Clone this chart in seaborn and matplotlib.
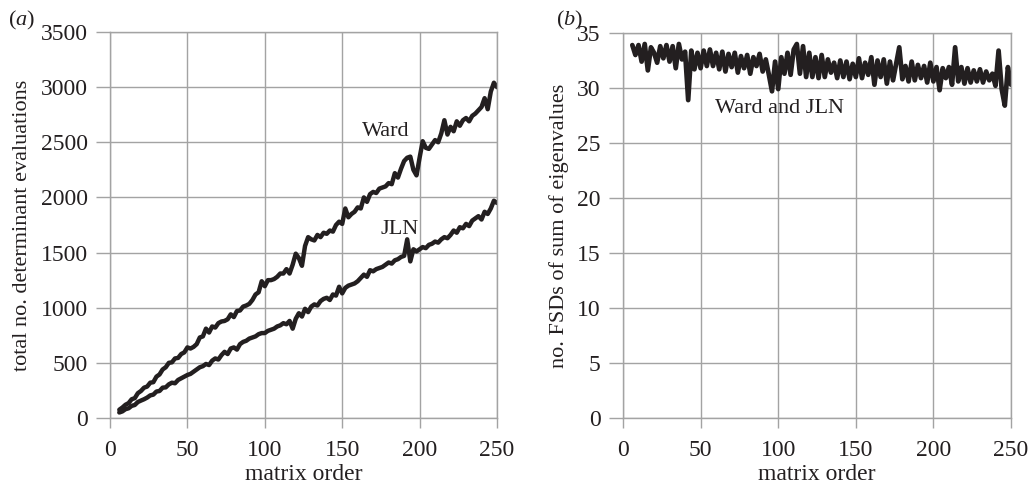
import matplotlib
matplotlib.use("Agg")
import matplotlib.pyplot as plt
import seaborn as sns
import pandas as pd

# ---- data ----
matrix_order = list(range(6, 251, 2))

ward = [75, 95,
        120, 135, 170, 180, 225,
        245, 275, 285, 320, 325,
        375, 395, 440, 460, 500,
        505, 540, 545, 580, 595,
        640, 630, 645, 670, 730,
        740, 810, 775, 830, 820,
        860, 875, 880, 895, 940,
        915, 970, 975, 1010, 1020,
        1035, 1070, 1120, 1140, 1240,
        1195, 1250, 1250, 1260, 1280,
        1310, 1310, 1350, 1310, 1390,
        1490, 1450, 1380, 1560, 1640,
        1620, 1610, 1660, 1640, 1680,
        1670, 1700, 1690, 1750, 1780,
        1760, 1900, 1820, 1850, 1870,
        1910, 1900, 2000, 1960, 2030,
        2050, 2040, 2080, 2090, 2100,
        2130, 2120, 2220, 2180, 2260,
        2330, 2360, 2370, 2250, 2200,
        2360, 2510, 2450, 2440, 2480,
        2520, 2500, 2580, 2700, 2570,
        2640, 2600, 2690, 2650, 2700,
        2720, 2690, 2740, 2760, 2790,
        2820, 2900, 2800, 2960, 3040,
        3000]

jln = [50, 60,
       80, 88, 110, 118, 145,
       158, 170, 185, 205, 212,
       240, 245, 275, 278, 305,
       320, 315, 345, 360, 375,
       390, 400, 420, 440, 460,
       470, 490, 480, 520, 540,
       530, 570, 600, 580, 630,
       640, 620, 670, 690, 700,
       720, 730, 740, 760, 770,
       770, 790, 800, 810, 830,
       840, 860, 850, 880, 810,
       900, 950, 920, 990, 960,
       1010, 1030, 1020, 1060, 1080,
       1090, 1070, 1120, 1110, 1190,
       1130, 1180, 1200, 1210, 1220,
       1240, 1270, 1300, 1280, 1340,
       1330, 1350, 1360, 1370, 1390,
       1410, 1400, 1430, 1440, 1460,
       1470, 1620, 1420, 1530, 1510,
       1530, 1550, 1540, 1570, 1580,
       1600, 1590, 1620, 1640, 1630,
       1660, 1700, 1680, 1730, 1720,
       1760, 1740, 1790, 1810, 1830,
       1800, 1870, 1850, 1900, 1970,
       1950]

fsd = [33.9, 33.0,
       33.9, 32.4, 34.0, 31.6, 33.7,
       33.2, 32.3, 33.8, 32.7, 33.9,
       32.4, 33.8, 31.8, 34.0, 32.6,
       33.3, 28.9, 33.4, 31.7, 33.2,
       31.8, 33.4, 32.0, 33.5, 32.0,
       33.2, 31.7, 33.3, 31.5, 33.1,
       31.9, 33.2, 31.4, 32.9, 31.8,
       33.0, 31.3, 32.8, 32.0, 33.1,
       31.5, 32.6, 31.2, 29.7, 32.4,
       29.9, 32.8, 31.3, 33.2, 31.2,
       33.5, 34.0, 31.3, 33.8, 31.0,
       33.2, 31.0, 32.8, 30.9, 33.0,
       31.0, 32.6, 31.4, 32.3, 30.9,
       32.5, 31.0, 32.4, 30.8, 32.2,
       31.0, 32.7, 30.9, 32.3, 31.2,
       32.8, 30.3, 32.5, 31.0, 32.6,
       30.4, 32.4, 30.7, 32.2, 33.7,
       30.8, 32.0, 30.6, 32.4, 30.7,
       32.1, 30.9, 32.0, 30.5, 32.3,
       30.6, 31.9, 29.8, 31.8, 30.9,
       31.9, 30.3, 33.7, 30.6, 31.9,
       30.4, 31.8, 30.5, 31.6, 30.6,
       31.7, 30.5, 31.5, 30.7, 31.3,
       30.2, 33.4, 29.9, 28.4, 31.9,
       30.3]

x_ticks = [0, 50, 100, 150, 200, 250]
ya_ticks = [0, 500, 1000, 1500, 2000, 2500, 3000, 3500]
yb_ticks = [0, 5, 10, 15, 20, 25, 30, 35]

# ---- style ----
sns.set_theme(style="whitegrid")
plt.rcParams['font.family'] = ['Liberation Serif', 'DejaVu Serif']
plt.rcParams['mathtext.fontset'] = 'custom'
plt.rcParams['mathtext.rm'] = 'Liberation Serif'
plt.rcParams['mathtext.it'] = 'Liberation Serif:italic'

INK = '#231f20'
GRID = '#a3a3a3'
FS = 16

df_a = pd.DataFrame({
    'matrix order': matrix_order * 2,
    'value': ward + jln,
    'method': ['Ward'] * len(ward) + ['JLN'] * len(jln),
})
df_b = pd.DataFrame({'matrix order': matrix_order, 'value': fsd})

fig = plt.figure(figsize=(10.32, 4.84), dpi=100)
ax1 = fig.add_axes([110 / 1032, 1 - 418 / 484, 387 / 1032, 386 / 484])
ax2 = fig.add_axes([623 / 1032, 1 - 418 / 484, 388 / 1032, 385 / 484])

sns.lineplot(data=df_a, x='matrix order', y='value', hue='method',
             palette=[INK, INK], linewidth=3.2, legend=False, ax=ax1)
sns.lineplot(data=df_b, x='matrix order', y='value', color=INK,
             linewidth=3.4, legend=False, ax=ax2)

for ax, yt, ylab in [(ax1, ya_ticks, 'total no. determinant evaluations'),
                     (ax2, yb_ticks, 'no. FSDs of sum of eigenvalues')]:
    ax.set_xlim(0, 250)
    ax.set_ylim(yt[0], yt[-1])
    ax.set_xticks(x_ticks)
    ax.set_yticks(yt)
    ax.grid(True, color=GRID, linewidth=1.0)
    for s in ax.spines.values():
        s.set_color(GRID)
        s.set_linewidth(1.0)
    ax.tick_params(axis='y', left=True, length=10, width=1.0, color=GRID,
                   pad=6, labelsize=FS + 1, labelcolor=INK, direction='out')
    ax.tick_params(axis='x', bottom=True, length=7, width=1.0, color=GRID,
                   pad=9, labelsize=FS + 1, labelcolor=INK, direction='out')
    ax.set_xlabel('matrix order', fontsize=FS + 1, color=INK, labelpad=2)
    ax.set_ylabel(ylab, fontsize=FS, color=INK, labelpad=6)
    ax.set_facecolor('white')

ax1.text(178, 2600, 'Ward', fontsize=FS, color=INK, ha='center', va='center')
ax1.text(187, 1705, 'JLN', fontsize=FS, color=INK, ha='center', va='center')
ax2.text(101, 28.1, 'Ward and JLN', fontsize=FS, color=INK, ha='center', va='center')

fig.text(8 / 1032, 1 - 20 / 484, r'($\mathit{a}$)', fontsize=FS, color=INK, va='center')
fig.text(556 / 1032, 1 - 20 / 484, r'($\mathit{b}$)', fontsize=FS, color=INK, va='center')

fig.savefig('out.png', dpi=100, facecolor='white')
